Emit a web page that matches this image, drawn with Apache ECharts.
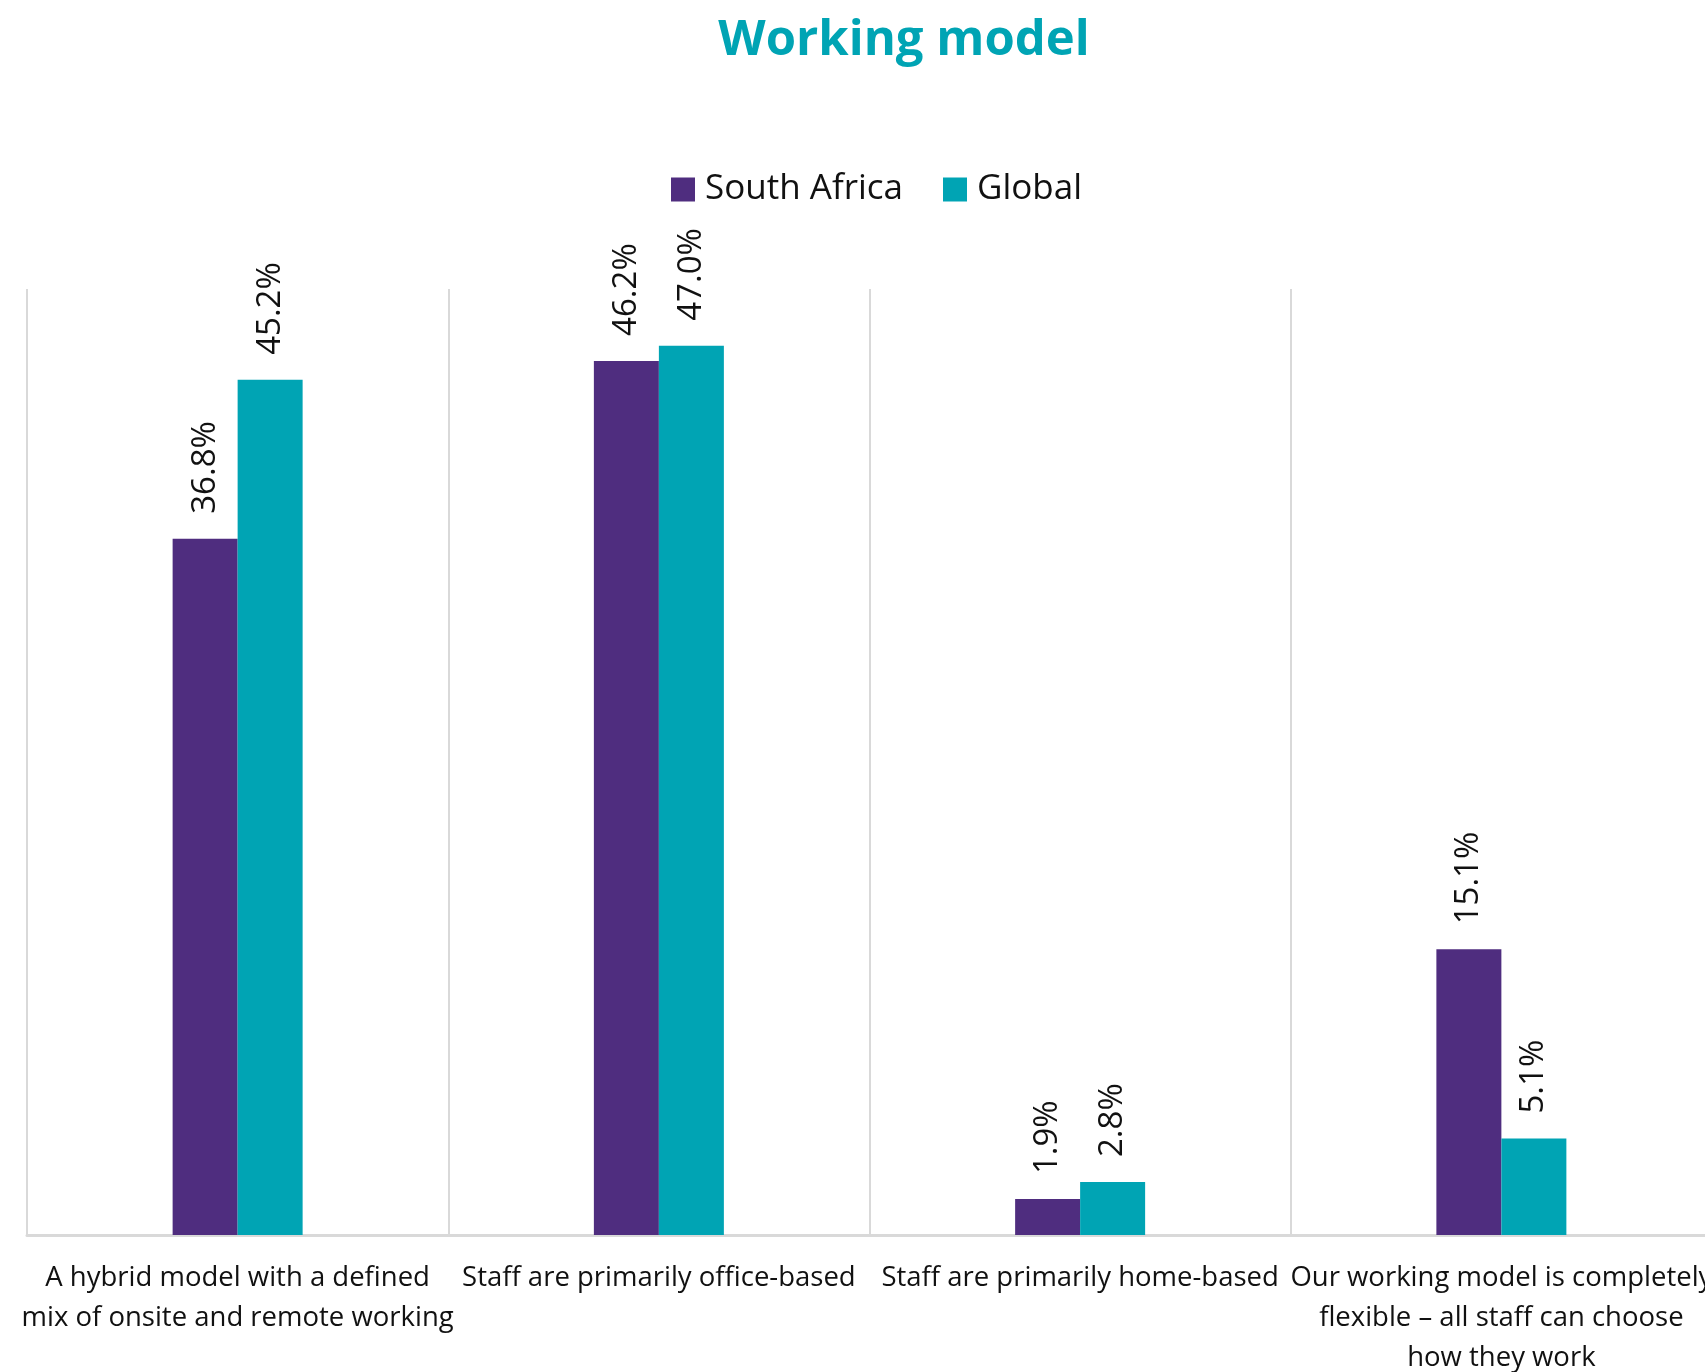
<!DOCTYPE html>
<html>
<head>
<meta charset="utf-8">
<title>Working model</title>
<script src="https://cdn.jsdelivr.net/npm/echarts@6/dist/echarts.min.js"></script>
<style>
  html, body { margin: 0; padding: 0; background: #ffffff; }
  #chart { width: 1705px; height: 1372px; }
</style>
</head>
<body>
<div id="chart"></div>
<script>
// Survey answers: which working model the organisation uses
const categories = [
  'A hybrid model with a defined\nmix of onsite and remote working',
  'Staff are primarily office-based',
  'Staff are primarily home-based',
  'Our working model is completely\nflexible \u2013 all staff can choose\nhow they work'
];
const southAfrica = [36.8, 46.2, 1.9, 15.1];
const global = [45.2, 47.0, 2.8, 5.1];
const seriesNames = ['South Africa', 'Global'];

const PURPLE = '#4F2D7F';
const TEAL = '#00A4B4';
const FONT = '"Open Sans", "Noto Sans", sans-serif';

const valueLabel = {
  show: true,
  position: 'top',
  rotate: 90,
  align: 'left',
  verticalAlign: 'middle',
  distance: 25,
  color: '#111111',
  fontFamily: FONT,
  fontSize: 33,
  formatter: p => p.value.toFixed(1) + '%'
};

const chart = echarts.init(document.getElementById('chart'), null, { renderer: 'canvas' });
chart.setOption({
  backgroundColor: '#ffffff',
  animation: false,
  title: {
    text: 'Working model',
    left: 899,
    textAlign: 'center',
    top: 12,
    textStyle: { color: TEAL, fontFamily: FONT, fontWeight: 'bold', fontSize: 49 }
  },
  legend: {
    data: seriesNames,
    left: 666,
    top: 167,
    icon: 'rect',
    itemWidth: 24,
    itemHeight: 24,
    itemGap: 40,
    textStyle: { color: '#111111', fontFamily: FONT, fontSize: 35, lineHeight: 35, padding: [0, 0, 0, 5] }
  },
  grid: {
    left: 27, right: -7, top: 289, bottom: 137,
    containLabel: false,
    outerBoundsMode: 'none'
  },
  xAxis: {
    type: 'category',
    data: categories,
    axisLine: { show: true, lineStyle: { color: '#D9D9D9', width: 3 } },
    axisTick: { show: false },
    splitLine: { show: true, interval: 0, lineStyle: { color: '#D9D9D9', width: 2 } },
    axisLabel: {
      interval: 0,
      margin: 23,
      color: '#111111',
      fontFamily: FONT,
      fontSize: 27.5,
      lineHeight: 40
    }
  },
  yAxis: {
    type: 'value',
    min: 0,
    max: 50,
    show: false,
    splitLine: { show: false }
  },
  series: [
    {
      name: seriesNames[0],
      type: 'bar',
      data: southAfrica,
      barWidth: 65,
      barGap: '0%',
      itemStyle: { color: PURPLE },
      label: valueLabel
    },
    {
      name: seriesNames[1],
      type: 'bar',
      data: global,
      barWidth: 65,
      barGap: '0%',
      itemStyle: { color: TEAL },
      label: valueLabel
    }
  ]
});
</script>
</body>
</html>
